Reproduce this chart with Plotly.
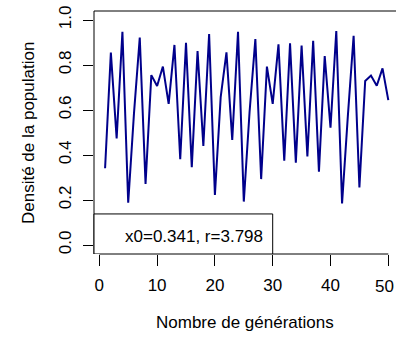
import plotly.graph_objects as go

generations = list(range(1, 51))
densite = [0.341, 0.855, 0.474, 0.948, 0.188, 0.585, 0.922, 0.271, 0.755, 0.707,
           0.793, 0.627, 0.889, 0.381, 0.899, 0.346, 0.862, 0.440, 0.938, 0.222,
           0.657, 0.856, 0.467, 0.948, 0.193, 0.592, 0.915, 0.293, 0.793, 0.627,
           0.892, 0.375, 0.896, 0.366, 0.886, 0.393, 0.908, 0.326, 0.840, 0.521,
           0.951, 0.185, 0.573, 0.930, 0.256, 0.729, 0.753, 0.708, 0.785, 0.644]
xticks = [0, 10, 20, 30, 40, 50]
yticks = [0.0, 0.2, 0.4, 0.6, 0.8, 1.0]
legend_text = "x0=0.341, r=3.798"

FONT = "Liberation Sans, Arial, Helvetica, sans-serif"
FS = 17

W, H = 396, 338
L, T, Bpix = 94, 11, 254
B = H - Bpix
R = 0
pw = W - L - R
ph = H - T - B
px_per = 5.78
x0pix = 99.3
xr = [(L - x0pix) / px_per, (W - x0pix) / px_per]

fig = go.Figure()
fig.add_trace(go.Scatter(x=generations, y=densite, mode="lines",
                         line=dict(color="#00008B", width=2), showlegend=False,
                         hoverinfo="skip"))

# last x tick label is placed by hand so it stays inside the window
xticktext = [str(v) for v in xticks[:-1]] + [""]

fig.update_layout(
    width=W, height=H, margin=dict(l=L, r=R, t=T, b=B, autoexpand=False),
    paper_bgcolor="white", plot_bgcolor="white",
    font=dict(family=FONT, size=FS, color="black"),
    showlegend=False,
    xaxis=dict(range=xr, tickvals=xticks, ticktext=xticktext,
               showgrid=False, zeroline=False, showline=False,
               ticks="outside", ticklen=10.5, tickwidth=1, tickcolor="black",
               automargin=False, ticklabelstandoff=5, ticklabeloverflow="allow"),
    yaxis=dict(range=[-0.04, 1.04], tickvals=yticks,
               ticktext=[f"{v:.1f}" for v in yticks], tickangle=-90,
               showgrid=False, zeroline=False, showline=False,
               ticks="outside", ticklen=10, tickwidth=1, tickcolor="black",
               automargin=False, ticklabelstandoff=5, ticklabeloverflow="allow"),
)

fig.add_annotation(x=1.0, y=(Bpix - 286.5) / ph, xref="paper", yref="paper",
                   text=str(xticks[-1]), showarrow=False,
                   xanchor="right", yanchor="middle")

# plot frame: top and left edges (right edge lies beyond the window)
fig.add_shape(type="line", xref="paper", yref="paper", x0=0, x1=1.05, y0=1, y1=1,
              line=dict(color="black", width=1), layer="above")
fig.add_shape(type="line", xref="paper", yref="paper", x0=0, x1=0, y0=0, y1=1,
              line=dict(color="black", width=1), layer="above")
# x axis line (from first to last tick)
fig.add_shape(type="line", xref="x", yref="paper", x0=xticks[0], x1=xticks[-1], y0=0, y1=0,
              line=dict(color="black", width=1), layer="above")

# legend box
fig.add_shape(type="rect", xref="paper", yref="y", x0=0, x1=(30 - xr[0]) / (xr[1] - xr[0]),
              y0=-0.04, y1=0.138, line=dict(color="black", width=1),
              fillcolor="white", layer="above")
fig.add_annotation(x=16.4, y=0.038, xref="x", yref="y", text=legend_text,
                   showarrow=False, font=dict(size=FS, family=FONT),
                   xanchor="center", yanchor="middle")

# axis titles
fig.add_annotation(x=(245 - L) / pw, y=(Bpix - 322) / ph,
                   xref="paper", yref="paper", text="Nombre de générations",
                   showarrow=False, xanchor="center", yanchor="middle")
fig.add_annotation(x=(28 - L) / pw, y=(Bpix - 133) / ph, xref="paper", yref="paper",
                   text="Densité de la population", showarrow=False, textangle=-90,
                   xanchor="center", yanchor="middle")

fig.write_html("out.html", config={"displayModeBar": False, "staticPlot": True},
               post_script="document.body.style.margin='0';")
